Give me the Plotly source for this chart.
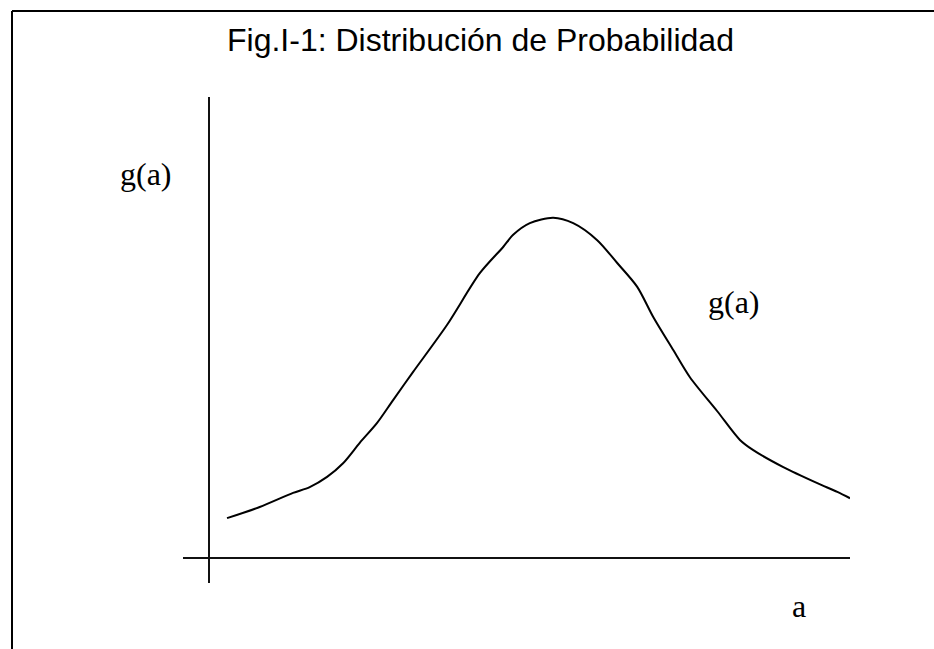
import plotly.graph_objects as go

# Curve g(a) (arbitrary units; axis crossing at 0,0)
a_values = [0.27, 0.76, 1.26, 1.51, 1.77, 2.01, 2.26, 2.52, 2.76, 3.06, 3.57, 4.06,
            4.41, 4.56, 4.81, 5.16, 5.46, 5.82, 6.12, 6.42, 6.66, 6.96, 7.21, 7.62,
            7.96, 8.16, 8.61, 9.12, 9.42, 9.61]
g_values = [0.82, 1.05, 1.34, 1.46, 1.67, 1.95, 2.37, 2.78, 3.25, 3.83, 4.80, 5.86,
            6.40, 6.65, 6.89, 7.00, 6.89, 6.54, 6.07, 5.58, 4.96, 4.28, 3.72, 3.02,
            2.43, 2.22, 1.87, 1.54, 1.36, 1.23]

title_text = "Fig.I-1: Distribución de Probabilidad"
y_label = "g(a)"
curve_label = "g(a)"
x_label = "a"

fig = go.Figure()
fig.add_trace(go.Scatter(x=a_values, y=g_values, mode="lines",
                         line=dict(color="black", width=2, shape="spline", smoothing=0.8),
                         hoverinfo="skip", showlegend=False))

W, H = 934, 649
L, R, T, B = 183, 84, 97, 66
fig.update_layout(
    width=W, height=H,
    margin=dict(l=L, r=R, t=T, b=B, pad=0),
    paper_bgcolor="white", plot_bgcolor="white",
    showlegend=False,
    xaxis=dict(range=[-0.39, 9.61], showgrid=False, showticklabels=False, ticks="",
               showline=False, zeroline=True, zerolinecolor="#111111", zerolinewidth=2,
               fixedrange=True),
    yaxis=dict(range=[-0.514, 9.486], showgrid=False, showticklabels=False, ticks="",
               showline=False, zeroline=True, zerolinecolor="#111111", zerolinewidth=2,
               fixedrange=True),
)

serif = "Liberation Serif, Times New Roman, serif"
sans = "Liberation Sans, Arial, sans-serif"
fig.add_annotation(text=title_text, xref="paper", yref="paper", x=(480 - L) / 667, y=(583 - 40) / 486,
                   xanchor="center", yanchor="middle", showarrow=False,
                   font=dict(family=sans, size=32, color="black"))
fig.add_annotation(text=y_label, xref="paper", yref="paper", x=(145.5 - L) / 667, y=(583 - 173.5) / 486,
                   xanchor="center", yanchor="middle", showarrow=False,
                   font=dict(family=serif, size=32, color="black"))
fig.add_annotation(text=curve_label, xref="paper", yref="paper", x=(734 - L) / 667, y=(583 - 301.5) / 486,
                   xanchor="center", yanchor="middle", showarrow=False,
                   font=dict(family=serif, size=32, color="black"))
fig.add_annotation(text=x_label, xref="paper", yref="paper", x=(799 - L) / 667, y=(583 - 606) / 486,
                   xanchor="center", yanchor="middle", showarrow=False,
                   font=dict(family=serif, size=32, color="black"))

# Frame around the figure (left and top edges visible)
bx = (12 - L) / 667
by = (583 - 11) / 486
fig.add_shape(type="line", xref="paper", yref="paper", x0=bx, x1=bx, y0=-0.3, y1=by,
              line=dict(color="black", width=2))
fig.add_shape(type="line", xref="paper", yref="paper", x0=bx, x1=1.3, y0=by, y1=by,
              line=dict(color="black", width=2))

fig.write_html("out.html", config={"displayModeBar": False},
               post_script="document.body.style.margin='0';document.body.style.overflow='hidden';")
